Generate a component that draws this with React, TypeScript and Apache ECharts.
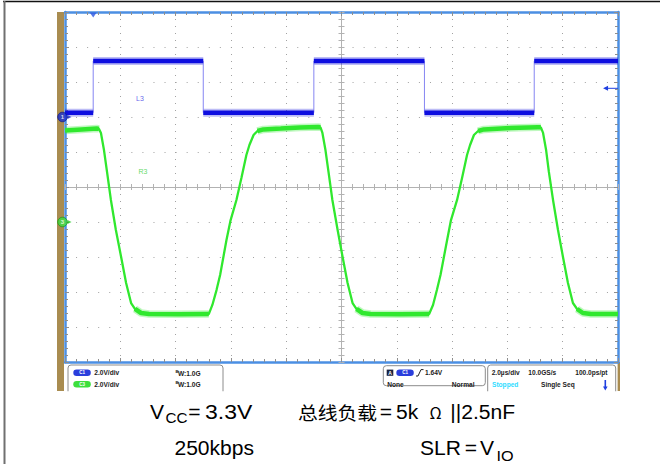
import React, { useEffect, useRef } from "react";
import * as echarts from "echarts";

// Time axis in µs (2.0 µs/div, 10 divisions)
const timeMin = 0;
const timeMax = 20;
const timeStep = 2;
// Screen divisions (vertical)
const divMin = -5;
const divMax = 5;
// Channel C1 in volts (2.0 V/div)
const c1Min = -14;
const c1Max = 6;
// Channel C3 in volts (2.0 V/div)
const c3Min = -8;
const c3Max = 12;

const triggerTime = 1.02;
const triggerLevel = 1.64;

// C1 (blue) trace: time µs / volts
const blueT = [0, 1.02, 1.02, 5.0, 5.0, 9.0, 9.0, 13.0, 13.0, 16.97, 16.97, 20];
const blueV = [0.25, 0.25, 3.2, 3.2, 0.25, 0.25, 3.2, 3.2, 0.25, 0.25, 3.2, 3.2];

// C3 (green) trace: time µs / volts
const greenT = [
  0, 0.6, 1.15,
  1.23, 1.3, 1.41, 1.52, 1.66, 1.84, 2.03, 2.21, 2.39, 2.53, 2.75, 3.04,
  4.1, 5.2,
  5.33, 5.48, 5.61, 5.84, 5.99, 6.2, 6.38, 6.56, 6.67, 6.82, 6.96, 7.18,
  7.8, 8.5, 9.15,
  9.24, 9.31, 9.42, 9.53, 9.67, 9.86, 10.04, 10.22, 10.4, 10.54, 10.76, 11.05,
  12.1, 13.17,
  13.31, 13.45, 13.58, 13.82, 13.96, 14.18, 14.36, 14.54, 14.65, 14.79, 14.94, 15.15,
  16.1, 17.1,
  17.21, 17.29, 17.4, 17.5, 17.65, 17.83, 18.01, 18.19, 18.37, 18.52, 18.73, 19.02,
  20,
];
const greenV = [
  5.23, 5.29, 5.34,
  5.32, 5.09, 4.11, 2.86, 1.26, -0.46, -2.0, -3.49, -4.63, -4.97, -5.2, -5.26,
  -5.27, -5.26,
  -4.74, -3.89, -3.03, -1.03, 0.11, 1.26, 2.51, 3.83, 4.4, 4.97, 5.2, 5.29,
  5.34, 5.4, 5.43,
  5.41, 5.09, 4.11, 2.86, 1.26, -0.46, -2.0, -3.49, -4.63, -4.97, -5.2, -5.26,
  -5.27, -5.26,
  -4.74, -3.89, -3.03, -1.03, 0.11, 1.26, 2.51, 3.83, 4.4, 4.97, 5.2, 5.29,
  5.37, 5.41,
  5.41, 5.09, 4.11, 2.86, 1.26, -0.46, -2.0, -3.49, -4.63, -4.97, -5.2, -5.26,
  -5.26,
];

// Scope info texts
const ch1Scale = "2.0V/div";
const ch3Scale = "2.0V/div";
const bwText = "W:1.0G";
const trigText = "1.64V";
const trigCoupling = "None";
const trigMode = "Normal";
const timebase = "2.0µs/div";
const sampleRate = "10.0GS/s";
const resolution = "100.0ps/pt";
const runState = "Stopped";
const acqMode = "Single Seq";

const FONT = '"Liberation Sans", Arial, Helvetica, sans-serif';
const CJK = '"Noto Sans CJK SC", sans-serif';

const pairs = (ts: number[], vs: number[]) => ts.map((t, i) => [t, vs[i]]);
function flats(ts: number[], vs: number[], maxSlope: number) {
  const out: any[] = [];
  for (let i = 0; i < ts.length - 1; i++) {
    const dt = ts[i + 1] - ts[i];
    const flat = dt > 0 && Math.abs((vs[i + 1] - vs[i]) / dt) < maxSlope;
    if (flat) {
      if (out.length === 0 || out[out.length - 1] === null) out.push([ts[i], vs[i]]);
      out.push([ts[i + 1], vs[i + 1]]);
    } else if (out.length && out[out.length - 1] !== null) {
      out.push(null);
    }
  }
  return out;
}

const borderColor = "#4b8fe3";
const tickColor = "#8e8e8e";
const dotColor = "#a2a2a2";
const centerColor = "#b2b2b2";
const blue = "#0e0ee0";
const green = "#30e82e";
const gold = "#a98c50";

function borderX(position: "top" | "bottom", split: boolean) {
  return {
    type: "value",
    min: timeMin,
    max: timeMax,
    interval: timeStep,
    position,
    axisLine: { show: true, onZero: false, lineStyle: { color: borderColor, width: 2.5 } },
    axisTick: { show: true, inside: true, length: 4, lineStyle: { color: tickColor } },
    minorTick: { show: true, splitNumber: 5, length: 3, lineStyle: { color: tickColor } },
    axisLabel: { show: false },
    splitLine: { show: split, lineStyle: { color: dotColor, width: 1, type: [1, 6] } },
  };
}
function centerX(inside: boolean) {
  return {
    type: "value",
    min: -10,
    max: 10,
    interval: 2,
    position: "bottom",
    axisLine: { show: true, onZero: true, onZeroAxisIndex: 0, lineStyle: { color: centerColor, width: 1 } },
    axisTick: { show: true, inside, length: 3, lineStyle: { color: centerColor } },
    minorTick: { show: true, splitNumber: 5, length: 3, lineStyle: { color: centerColor } },
    axisLabel: { show: false },
    splitLine: { show: false },
  };
}
function borderY(position: "left" | "right", split: boolean) {
  return {
    type: "value",
    min: divMin,
    max: divMax,
    interval: 1,
    position,
    axisLine: { show: true, onZero: false, lineStyle: { color: borderColor, width: 2.5 } },
    axisTick: { show: true, inside: true, length: 4, lineStyle: { color: tickColor } },
    minorTick: { show: true, splitNumber: 5, length: 3, lineStyle: { color: tickColor } },
    axisLabel: { show: false },
    splitLine: { show: split, lineStyle: { color: dotColor, width: 1, type: [1, 10.06] } },
  };
}
function centerY(inside: boolean) {
  return {
    type: "value",
    min: divMin,
    max: divMax,
    interval: 1,
    position: "left",
    axisLine: { show: true, onZero: true, onZeroAxisIndex: 2, lineStyle: { color: centerColor, width: 1 } },
    axisTick: { show: true, inside, length: 3, lineStyle: { color: centerColor } },
    minorTick: { show: true, splitNumber: 5, length: 3, lineStyle: { color: centerColor } },
    axisLabel: { show: false },
    splitLine: { show: false },
  };
}

function txt(text: string, x: number, y: number, extra: any = {}, el: any = {}) {
  return {
    type: "text",
    silent: true,
    x,
    y,
    ...el,
    style: {
      text,
      x: 0,
      y: 0,
      font: `bold 6.6px ${FONT}`,
      fill: "#1c1c1c",
      align: "left",
      verticalAlign: "middle",
      ...extra,
    },
  };
}
function pill(x: number, y: number, fill: string, label: string) {
  return [
    { type: "rect", silent: true, shape: { x, y, width: 17.5, height: 6.5, r: 3.25 }, style: { fill } },
    txt(label, x + 8.75, y + 3.3, { font: `bold 4.5px ${FONT}`, fill: "#ffffff", align: "center" }),
  ];
}
function box(x: number, y: number, w: number, h: number) {
  return { type: "rect", silent: true, shape: { x, y, width: w, height: h, r: 3 }, style: { fill: "none", stroke: "#8c8c8c", lineWidth: 1 } };
}

const capFs = 19.5;
const capScale = 1.08;
const cap = (text: string, x: number, y: number, align: string, fs = capFs, family = FONT, sx = capScale) =>
  txt(text, x, y, { font: `${fs}px ${family}`, fill: "#000", align }, { scaleX: sx });

const row1 = 372.7;
const row2 = 384.3;

const graphics: any[] = [
  { type: "line", silent: true, shape: { x1: 3, y1: 1.5, x2: 660, y2: 1.5 }, style: { stroke: "#111", lineWidth: 1.5 } },
  { type: "line", silent: true, shape: { x1: 4.5, y1: 1, x2: 4.5, y2: 464 }, style: { stroke: "#707070", lineWidth: 2 } },
  { type: "rect", silent: true, shape: { x: 57, y: 12, width: 7, height: 379 }, style: { fill: gold } },
  { type: "rect", silent: true, shape: { x: 617.6, y: 362, width: 2.4, height: 29 }, style: { fill: gold } },
  // info boxes
  box(68, 365, 155, 32),
  box(383.3, 365.7, 102, 20),
  box(487.7, 365, 128, 32),
  { type: "rect", silent: true, shape: { x: 64, y: 391.2, width: 553, height: 10 }, style: { fill: "#fff" } },
  // left box
  ...pill(73.3, 369.5, "#2a3edc", "C1"),
  txt(ch1Scale, 94.3, row1),
  txt("B", 175.6, row1 - 1.6, { font: `bold 4.3px ${FONT}` }),
  txt(bwText, 178, row1 + 0.4),
  ...pill(73.3, 381.1, "#3ddf3d", "C3"),
  txt(ch3Scale, 94.3, row2),
  txt("B", 175.6, row2 - 1.6, { font: `bold 4.3px ${FONT}` }),
  txt(bwText, 178, row2 + 0.4),
  // trigger box
  { type: "rect", silent: true, shape: { x: 386.7, y: 369.6, width: 6.6, height: 6.2 }, style: { fill: "#1a2240" } },
  txt("A", 390, row1, { font: `bold 5px ${FONT}`, fill: "#fff", align: "center" }),
  ...pill(396.3, 369.5, "#2a3edc", "C1"),
  { type: "polyline", silent: true, shape: { points: [[416, 376], [418, 376], [421, 369.6], [423.5, 369.6]] }, style: { stroke: "#222", lineWidth: 1, fill: "none" } },
  txt(trigText, 425, row1),
  txt(trigCoupling, 387.3, row2),
  txt(trigMode, 474.5, row2, { align: "right" }),
  // timebase box
  txt(timebase, 491.7, row1),
  txt(sampleRate, 528.3, row1),
  txt(resolution, 607.5, row1, { align: "right" }),
  txt(runState, 492, row2, { fill: "#2fdcff" }),
  txt(acqMode, 541, row2),
  { type: "line", silent: true, shape: { x1: 605.3, y1: 380, x2: 605.3, y2: 388 }, style: { stroke: "#1f3fe0", lineWidth: 1.6 } },
  { type: "polygon", silent: true, shape: { points: [[603, 386.5], [607.6, 386.5], [605.3, 390.5]] }, style: { fill: "#1f3fe0" } },
  // caption line 1
  cap("V", 150, 412.2, "left"),
  cap("CC", 165.5, 418.1, "left", 14.5, FONT, 1.05),
  cap("=", 194.5, 412.2, "center"),
  cap("3.3V", 205, 412.2, "left", 20.5, FONT, 1.12),
  cap("总线负载", 298, 412.5, "left", 18.5, CJK, 1.07),
  cap("=", 386, 412.2, "center"),
  cap("5k", 396, 412.2, "left"),
  cap("Ω", 435.5, 411.5, "center", 16, CJK, 1.0),
  cap("||2.5nF", 515, 412.2, "right"),
  // caption line 2
  cap("250kbps", 254, 448.2, "right"),
  cap("SLR", 420, 448.2, "left"),
  cap("=", 470.8, 448.2, "center"),
  cap("V", 480, 448.2, "left"),
  cap("IO", 496.5, 455.3, "left", 15),
];

const option: any = {
  animation: false,
  backgroundColor: "#ffffff",
  grid: { left: 65, top: 12, width: 553, height: 350, containLabel: false },
  xAxis: [borderX("bottom", true), borderX("top", false), centerX(true), centerX(false)],
  yAxis: [
    borderY("left", true),
    borderY("right", false),
    centerY(true),
    centerY(false),
    { type: "value", min: c1Min, max: c1Max, interval: 2, show: false },
    { type: "value", min: c3Min, max: c3Max, interval: 2, show: false },
  ],
  series: [
    {
      type: "line", xAxisIndex: 0, yAxisIndex: 4, data: flats(blueT, blueV, 1.5), symbol: "none", silent: true,
      connectNulls: false, lineStyle: { color: blue, width: 8, opacity: 0.28 }, z: 3,
    },
    {
      type: "line", xAxisIndex: 0, yAxisIndex: 4, data: pairs(blueT, blueV), symbol: "none", silent: true,
      lineStyle: { color: "#8585f2", width: 1 }, z: 3,
    },
    {
      type: "line", xAxisIndex: 0, yAxisIndex: 4, data: flats(blueT, blueV, 1.5), symbol: "none", silent: true,
      connectNulls: false, lineStyle: { color: blue, width: 4.5 }, z: 4,
    },
    {
      type: "line", xAxisIndex: 0, yAxisIndex: 5, data: flats(greenT, greenV, 1.5), symbol: "none", silent: true,
      connectNulls: false, lineStyle: { color: green, width: 7.5, opacity: 0.3 }, z: 3,
    },
    {
      type: "line", xAxisIndex: 0, yAxisIndex: 5, data: pairs(greenT, greenV), symbol: "none", silent: true,
      lineStyle: { color: green, width: 2.3 }, z: 4,
    },
    {
      type: "line", xAxisIndex: 0, yAxisIndex: 5, data: flats(greenT, greenV, 1.5), symbol: "none", silent: true,
      connectNulls: false, lineStyle: { color: green, width: 4.5 }, z: 4,
    },
    // trigger level arrow
    {
      type: "line", xAxisIndex: 0, yAxisIndex: 4, silent: true, symbol: "triangle", showSymbol: true, clip: false,
      data: [
        { value: [19.55, triggerLevel], symbol: "triangle", symbolRotate: 90, symbolSize: 5 },
        { value: [timeMax, triggerLevel], symbol: "none" },
      ],
      itemStyle: { color: "#1f3fe0" }, lineStyle: { color: "#1f3fe0", width: 1 }, z: 5,
    },
    // trigger time marker
    {
      type: "scatter", xAxisIndex: 0, yAxisIndex: 0, silent: true, clip: false,
      data: [[triggerTime, divMax]], symbol: "triangle", symbolRotate: 180, symbolSize: [7, 5], symbolOffset: [0, 3],
      itemStyle: { color: "#2a55e0" }, z: 6,
    },
    // ground markers
    {
      type: "scatter", xAxisIndex: 0, yAxisIndex: 4, silent: true, clip: false,
      data: [[timeMin, 0]], symbol: "triangle", symbolRotate: -90, symbolSize: 4, symbolOffset: [4.5, 0],
      itemStyle: { color: "#1c2fd0" }, z: 6,
    },
    {
      type: "scatter", xAxisIndex: 0, yAxisIndex: 4, silent: true, clip: false,
      data: [[timeMin, 0]], symbol: "circle", symbolSize: 9.5, symbolOffset: [-2.5, 0],
      itemStyle: { color: "#1c2fd0", borderColor: "#0b1890", borderWidth: 1 },
      label: { show: true, position: "inside", formatter: "1", color: "#fff", fontSize: 6, fontWeight: "bold", fontFamily: FONT },
      z: 7,
    },
    {
      type: "scatter", xAxisIndex: 0, yAxisIndex: 5, silent: true, clip: false,
      data: [[timeMin, 0]], symbol: "triangle", symbolRotate: -90, symbolSize: 4, symbolOffset: [4.5, 0],
      itemStyle: { color: "#22cc22" }, z: 6,
    },
    {
      type: "scatter", xAxisIndex: 0, yAxisIndex: 5, silent: true, clip: false,
      data: [[timeMin, 0]], symbol: "circle", symbolSize: 9.5, symbolOffset: [-2.5, 0],
      itemStyle: { color: "#3ee03e", borderColor: "#1a9a1a", borderWidth: 1 },
      label: { show: true, position: "inside", formatter: "3", color: "#fff", fontSize: 6, fontWeight: "bold", fontFamily: FONT },
      z: 7,
    },
    // trace labels
    {
      type: "scatter", xAxisIndex: 0, yAxisIndex: 4, silent: true,
      data: [[2.71, 1.06]], symbolSize: 1, itemStyle: { color: "transparent" },
      label: { show: true, position: "inside", formatter: "L3", color: "#3a3ae6", fontSize: 7, fontFamily: FONT },
      z: 6,
    },
    {
      type: "scatter", xAxisIndex: 0, yAxisIndex: 5, silent: true,
      data: [[2.82, 2.91]], symbolSize: 1, itemStyle: { color: "transparent" },
      label: { show: true, position: "inside", formatter: "R3", color: "#3ad03a", fontSize: 7, fontFamily: FONT },
      z: 6,
    },
  ],
  graphic: { elements: graphics },
};

export default function App() {
  const ref = useRef<HTMLDivElement>(null);
  useEffect(() => {
    if (!ref.current) return;
    const chart = echarts.init(ref.current, null, { renderer: "svg" });
    chart.setOption(option);
    return () => chart.dispose();
  }, []);
  return (
    <div
      ref={ref}
      style={{ position: "absolute", left: 0, top: 0, width: 660, height: 464, background: "#fff" }}
    />
  );
}
